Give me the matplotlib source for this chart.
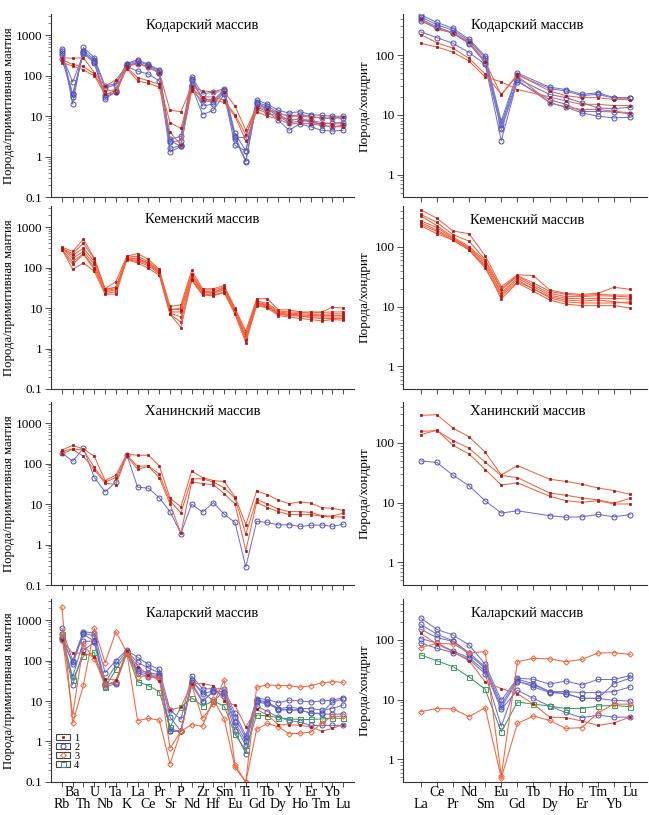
import numpy as np
import matplotlib
matplotlib.use('Agg')
import matplotlib.pyplot as plt
from matplotlib.lines import Line2D
from matplotlib.patches import Rectangle
from matplotlib.ticker import FixedLocator, NullFormatter, LogLocator

plt.rcParams['font.family'] = ['Liberation Serif', 'DejaVu Serif']

pm_elements = ['Rb', 'Ba', 'Th', 'U', 'Nb', 'Ta', 'K', 'La', 'Ce', 'Pr', 'Sr', 'P', 'Nd', 'Zr',
               'Hf', 'Sm', 'Eu', 'Ti', 'Gd', 'Tb', 'Dy', 'Y', 'Ho', 'Er', 'Tm', 'Yb', 'Lu']
ree_elements = ['La', 'Ce', 'Pr', 'Nd', 'Sm', 'Eu', 'Gd', 'Tb', 'Dy', 'Ho', 'Er', 'Tm', 'Yb', 'Lu']
titles = ['Кодарский массив', 'Кеменский массив', 'Ханинский массив', 'Каларский массив']
nan = np.nan

# ---- Кодарский: примитивная мантия
kodar_pm_2 = [
    [470, 20, 500, 280, 55, 65, 200, 250, 190, 140, 2.7, 3.2, 95, 35, 40, 48, 3.8, 1.4, 25, 20, 14, 12, 13, 11, 10.5, 10, 10],
    [400, 30, 420, 250, 50, 60, 190, 230, 180, 130, 2.3, 2.5, 85, 27, 25, 45, 3.2, 0.8, 22, 18, 12, 10, 11, 10, 9, 9, 9],
    [370, 35, 370, 230, 33, 45, 180, 210, 160, 120, 1.6, 1.9, 60, 18, 20, 38, 2.8, 0.75, 20, 15, 10, 7, 7.5, 8, 6, 5.5, 6],
    [330, 70, 350, 210, 27, 40, 170, 130, 110, 75, 1.3, 1.8, 55, 11, 14, 35, 1.9, 1.4, 17, 13, 8, 4.5, 6.5, 5.5, 4.5, 4.3, 4.5],
    [260, 35, 380, 220, 30, 40, 175, 200, 170, 115, 2.5, 1.8, 80, 25, 22, 42, 3.0, 3.0, 21, 16, 11, 8, 8.5, 7, 6.5, 6.8, 7],
]
kodar_pm_1 = [
    [280, 270, 280, 120, 55, 80, 170, 200, 160, 120, 14, 13, 55, 42, 40, 40, 18, 4.5, 17, 15, 12, 10, 10, 9.5, 9, 9, 9.5],
    [250, 190, 170, 110, 42, 45, 160, 90, 75, 62, 7, 5, 48, 30, 30, 25, 11, 3.5, 15, 12, 10, 8, 8.5, 8, 7, 6.5, 6.5],
    [210, 175, 140, 100, 35, 38, 150, 75, 65, 52, 4, 2, 42, 25, 25, 22, 10, 2.5, 13, 10, 8.5, 6.5, 6.8, 6.5, 6, 5.5, 5.5],
]
# ---- Кодарский: хондрит
kodar_ree_2 = [
    [470, 350, 280, 183, 96, 7.8, 50, nan, 29, 26.5, 22, 23.4, 19.4, 19.4],
    [435, 320, 260, 172, 90, 6.9, 46, nan, 27.5, 25, 21, 22, 19, 19],
    [400, 295, 237, 160, 81, 6.1, 40, nan, 22, 19.4, 16, 13, 12.7, 13.4],
    [370, 280, 230, 155, 74, 5.7, 36, nan, 18, 15, 11.4, 11.4, 11.2, 10.4],
    [243, 195, 157, 110, 70, 3.7, 38, nan, 16, 13.5, 10.8, 9.5, 8.9, 9.1],
]
kodar_ree_1 = [
    [400, 270, 237, 165, 77, 21.5, 48, nan, 25, 21, 19.4, 19.4, 18, 18],
    [220, 160, 130, 88, 48, 22, 45, nan, 16, 13.4, 12.3, 12.3, 11.5, 10.8],
    [157, 136, 112, 79, 43, 35.6, 26.5, nan, 20, 17, 15, 15, 14.3, 14.3],
]

# ---- Кеменский
kemen_pm_1 = [
    [320, 250, 500, 170, 30, 45, 190, 220, 160, 90, 11, 12, 85, 30, 30, 36, 10, 2.7, 17, 17, 9, 9, 8, 8, 8, 10.5, 10],
    [300, 220, 400, 160, 28, 33, 180, 190, 140, 85, 9, 10, 70, 28, 28, 33, 9, 2.4, 15, 13, 8.5, 8, 7.8, 7.5, 7.8, 8, 8],
    [290, 200, 300, 140, 27, 30, 170, 170, 130, 80, 8, 8, 60, 26, 25, 30, 8.5, 2.1, 14, 12, 8, 7.5, 7.2, 7, 7, 7.2, 7.2],
    [310, 170, 250, 120, 25, 28, 165, 150, 120, 75, 7.5, 6, 55, 24, 23, 28, 8, 1.9, 13, 11, 7.5, 7, 6.8, 6.5, 6.5, 6.5, 6.5],
    [280, 140, 220, 100, 23, 25, 160, 140, 110, 70, 7, 4.5, 50, 22, 21, 25, 7.5, 1.7, 12, 10.5, 7, 6.5, 6.3, 6, 6, 6, 6],
    [290, 90, 130, 80, 22, 22, 155, 130, 95, 65, 7, 3.3, 48, 21, 20, 24, 7, 1.4, 11.5, 10, 6.5, 6, 5.5, 5.2, 4.8, 5.2, 5],
    [270, 120, 210, 90, 30, 32, 175, 160, 125, 78, 9.5, 9, 65, 25, 24, 32, 9.5, 1.6, 13.5, 11.5, 7.2, 6.8, 6.5, 5.8, 5.5, 5.5, 5.5],
]
kemen_ree_1 = [
    [416, 300, 184, 165, 71, 21.6, 34, 33, 19, 16.7, 16, 16.7, 21, 19.5],
    [350, 255, 160, 124, 61, 20, 33, 25, 18, 16, 15.3, 16, 15.6, 15.6],
    [330, 225, 146, 101, 58, 19, 32, 23, 16.7, 14.7, 14.7, 15.2, 15, 14.5],
    [272, 210, 139, 96, 54, 17, 30, 21.6, 15.5, 13.8, 13.5, 13.8, 13.7, 13.4],
    [255, 190, 135, 93, 50, 16, 28, 19.5, 14.7, 12.9, 12.4, 12.9, 12.1, 11.3],
    [237, 180, 128, 90, 47, 13.4, 25, 18, 12.9, 11, 10.4, 10.4, 10.4, 9.5],
    [225, 165, 130, 88, 44, 15, 26, 20, 14, 12, 11.5, 11.5, 11.5, 12],
]

# ---- Ханинский
hanin_pm_2 = [
    [183, 114, 238, 45, 20, 35, 167, 26, 24.7, 14.3, 6.5, 1.86, 10, 6.3, 10.8, 5.6, 3.5, 0.28, 3.75, 3.5, 3.05, 3.1, 2.8, 2.98, 3.05, 2.8, 3.16],
]
hanin_pm_1 = [
    [215, 280, 230, 150, 38, 52, 170, 160, 160, 88, 14, 8.5, 65, 45, 38, 36, 15, 3.1, 21, 17, 12.5, 10.2, 11.3, 10.5, 8.2, 7.8, 7],
    [200, 230, 215, 80, 35, 45, 160, 85, 88, 55, 12, 6, 42, 42, 35, 25, 14, 1.8, 13, 10, 7.5, 6.5, 6.5, 6.2, 5.2, 5, 6],
    [175, 225, 150, 70, 33, 30, 155, 72, 85, 45, 10, 1.9, 35, 32, 30, 18, 10, 0.7, 11, 8.2, 6.5, 5.5, 5.5, 5.5, 5, 4.8, 4.8],
]
hanin_ree_2 = [
    [50, 46.9, 28.7, 19.2, 10.7, 6.7, 7.3, nan, 6.06, 5.7, 5.8, 6.36, 5.8, 6.3],
]
hanin_ree_1 = [
    [287, 295, 176, 126, 69.6, 29, 41.6, nan, 24.6, 22.7, 20.3, 17.6, 15.9, 13.8],
    [155, 160, 109, 81, 47.5, 28.4, 26.2, nan, 14.5, 13.3, 12, 11.1, 9.8, 11.8],
    [136, 163, 91, 65, 35.7, 19.7, 21.4, nan, 12.8, 10.8, 10.1, 10.8, 9.5, 9.5],
]

# ---- Каларский
kalar_pm_2 = [
    [630, 100, 520, 470, 50, 100, 180, 120, 80, 60, 6, 3.5, 42, 20, 20, 20, 5, 1.4, 11.5, 11, 9, 10.5, 10, 9.5, 10, 10.5, 12],
    [450, 80, 480, 400, 28, 80, 170, 90, 65, 50, 4, 1.8, 33, 15, 18, 17, 4, 1.2, 10.5, 9.5, 6.5, 7, 6.5, 6.5, 6, 6.5, 8],
    [380, 40, 300, 300, 25, 30, 160, 60, 50, 45, 2, 1.8, 28, 10, 17, 15, 2.5, 0.8, 10, 9, 6, 6, 6, 5, 5, 9.5, 11],
    [350, 25, 180, 280, 22, 27, 150, 50, 40, 38, 1.8, 1.8, 25, 9.5, 18, 13, 1.8, 0.5, 7.5, 5.5, 4, 3.3, 3, 2.5, 2.5, 2.5, 2.5],
    [330, 90, 450, 300, 26, 28, 165, 55, 45, 42, 1.8, 1.8, 30, 17, 10, 17, 3, 1.0, 9.5, 8.5, 6.5, 6, 6, 5, 4.8, 4.7, 4.8],
]
kalar_pm_4 = [
    [460, 33, 130, 160, 22, 60, 155, 30, 24, 17, 2.3, 7, 12, 7.5, 10, 7.5, 1.5, 0.6, 4.5, 4.3, 3.9, 3.6, 3.5, 3.5, 3.6, 3.8, 3.7],
]
kalar_pm_3 = [
    [450, 4.5, 250, 110, 25, 30, 160, 40, 42, 38, 0.68, 1.8, 25, 3.7, 8.5, 33, 0.26, 0.1, 22, 25, 24, 24, 22, 24, 28, 30, 29],
    [2100, 2.8, 25, 620, 88, 520, 160, 3.3, 3.7, 3.4, 0.28, 1.8, 2.6, 2.4, 11, 3.6, 0.23, 0.1, 2.0, 2.8, 2.3, 1.55, 1.6, 1.7, 2.8, 4.2, 4.2],
]
kalar_pm_1 = [
    [330, 150, 155, 120, 35, 33, 170, 70, 45, 32, 6, 7, 27, 27, 24, 10, 7.8, 2.3, 6.2, 4.5, 2.6, 2.6, 2.5, 2.3, 1.8, 2.1, 2.6],
]
kalar_ree_2 = [
    [231, 149, 120, 82, 39, 9.7, 22.8, 21.9, 18.1, 20.5, 17.6, 21.7, 21.7, 25.3],
    [181, 124, 96, 61, 35, 8.4, 21.9, 18.5, 13.6, 13.6, 13.1, 13.1, 13.6, 16.3],
    [150, 109, 94, 57, 33, 7.4, 20.5, 16.3, 13.1, 12.6, 10.5, 10.5, 18.5, 22.8],
    [105, 88, 65, 50, 30, 6.9, 14.3, 10.5, 7.8, 6.1, 5, 5.5, 5.1, 5.1],
    [88, 72, 61, 47, 27, 3.6, 20, 17.6, 13.6, 12.6, 10.5, 10.5, 9.7, 9.5],
]
kalar_ree_4 = [
    [56, 44.5, 35.5, 24, 14.9, 2.9, 9.1, 8.4, 7.8, 7.1, 7.1, 7.8, 8, 7.6],
]
kalar_ree_3 = [
    [74, 87, 85, 61, 63, 0.53, 43, 49, 48, 43, 47, 60, 61, 57],
    [6.3, 7.1, 7, 5.2, 7.3, 0.49, 4, 5.3, 4.5, 3.3, 3.4, 6, 8.4, 8.4],
]
kalar_ree_1 = [
    [128, 85, 63, 44.5, 19.8, 15.3, 12.6, 8.4, 5.1, 5, 4.4, 3.7, 4.1, 5.1],
]

ORANGE = '#f2643f'
style = {
    1: dict(color=ORANGE, lw=0.75, marker='s', ms=2.0, mfc='#a8161c', mec='#a8161c', mew=0.5),
    2: dict(color='#7373cc', lw=0.75, marker='o', ms=3.6, mfc='none', mec='#4f4fb5', mew=0.7),
    3: dict(color=ORANGE, lw=0.75, marker='D', ms=2.8, mfc='none', mec=ORANGE, mew=0.7),
    4: dict(color='#3f9a5e', lw=0.75, marker='s', ms=3.6, mfc='none', mec='#3f9a5e', mew=0.7),
}

pm_panels = [
    [(2, kodar_pm_2), (1, kodar_pm_1)],
    [(1, kemen_pm_1)],
    [(2, hanin_pm_2), (1, hanin_pm_1)],
    [(2, kalar_pm_2), (4, kalar_pm_4), (3, kalar_pm_3), (1, kalar_pm_1)],
]
ree_panels = [
    [(2, kodar_ree_2), (1, kodar_ree_1)],
    [(1, kemen_ree_1)],
    [(2, hanin_ree_2), (1, hanin_ree_1)],
    [(2, kalar_ree_2), (4, kalar_ree_4), (3, kalar_ree_3), (1, kalar_ree_1)],
]

fig = plt.figure(figsize=(6.49, 8.15), dpi=100)
row_bottoms = [0.758, 0.5227, 0.2822, 0.0405]
row_h = 0.2245
title_y_left = [0.94, 0.925, 0.95, 0.92]
title_y_right = [0.94, 0.92, 0.95, 0.92]


def draw(ax, groups):
    for s, lines in groups:
        for vals in lines:
            y = np.array(vals, dtype=float)
            x = np.arange(len(y))
            m = ~np.isnan(y)
            ax.plot(x[m], y[m], **style[s])


def setup(ax, labels, show_labels):
    n = len(labels)
    ax.set_yscale('log')
    for sp in ['top', 'right']:
        ax.spines[sp].set_visible(False)
    for sp in ['left', 'bottom']:
        ax.spines[sp].set_linewidth(0.8)
        ax.spines[sp].set_color('#333333')
    ax.set_xticks(range(n))
    ax.set_xticklabels([])
    if show_labels:
        tr = ax.get_xaxis_transform()
        for i, e in enumerate(labels):
            yy = -0.125 if i % 2 == 0 else -0.055
            ax.text(i, yy, e, transform=tr, ha='center', va='center', fontsize=10)
    ax.tick_params(axis='x', direction='out', length=3.5, width=0.6, colors='#333333')
    ax.tick_params(axis='y', which='major', direction='out', length=4, width=0.6, labelsize=9.5,
                   colors='#333333', labelcolor='black', pad=2)
    ax.tick_params(axis='y', which='minor', direction='out', length=2, width=0.5, colors='#555555')
    ax.yaxis.set_minor_locator(LogLocator(base=10, subs=np.arange(2, 10)))
    ax.yaxis.set_minor_formatter(NullFormatter())


for r in range(4):
    axl = fig.add_axes([0.0786, row_bottoms[r], 0.4669, row_h])
    draw(axl, pm_panels[r])
    setup(axl, pm_elements, r == 3)
    axl.set_xlim(-1, 27)
    axl.set_ylim(0.1, 3300)
    axl.yaxis.set_major_locator(FixedLocator([0.1, 1, 10, 100, 1000]))
    axl.set_yticklabels(['0.1', '1', '10', '100', '1000'])
    axl.set_ylabel('Порода/примитивная мантия', fontsize=9.2, labelpad=1)
    axl.text(0.5, title_y_left[r], titles[r], transform=axl.transAxes, ha='center', va='center',
             fontsize=10.5)

    axr = fig.add_axes([0.621, row_bottoms[r], 0.376, row_h])
    draw(axr, ree_panels[r])
    setup(axr, ree_elements, r == 3)
    axr.set_xlim(-1.1, 14.05)
    axr.set_ylim(0.42, 480)
    axr.yaxis.set_major_locator(FixedLocator([1, 10, 100]))
    axr.set_yticklabels(['1', '10', '100'])
    axr.set_ylabel('Порода/хондрит', fontsize=9.5, labelpad=3)
    axr.text(0.51, title_y_right[r], titles[r], transform=axr.transAxes, ha='center', va='center',
             fontsize=10.5)

    if r == 3:
        handles = []
        for s in [1, 2, 3, 4]:
            st = dict(style[s])
            st.pop('lw')
            st.pop('color')
            box = Rectangle((0, 0), 1, 1, fc='none', ec='#444444', lw=0.8)
            mk = Line2D([], [], ls='none', **st)
            handles.append((box, mk))
        axl.legend(handles, ['1', '2', '3', '4'], loc='upper left', bbox_to_anchor=(0.018, 0.265),
                   frameon=False, fontsize=7.5, handlelength=1.3, handleheight=0.55,
                   labelspacing=0.0, handletextpad=0.4, borderpad=0, borderaxespad=0)

fig.savefig('out.png', dpi=100)
